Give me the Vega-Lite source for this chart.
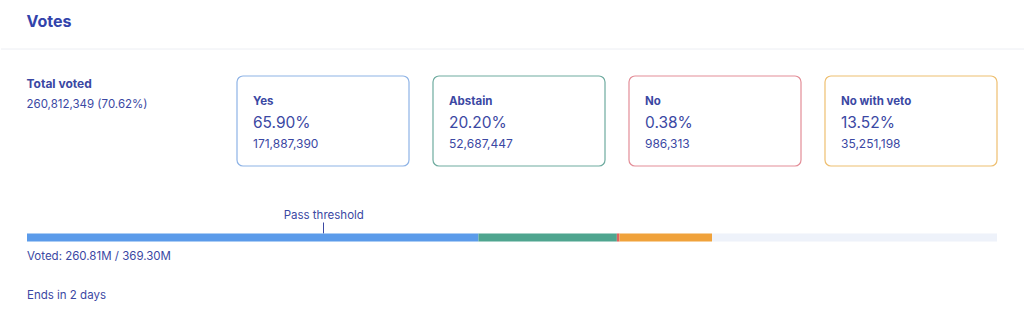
{
  "$schema": "https://vega.github.io/schema/vega-lite/v6.json",
  "background": "#ffffff",
  "padding": {"top": 14, "left": 0, "right": 0, "bottom": 0},
  "title": {"text": "Votes", "anchor": "start", "dx": 26, "fontSize": 16, "fontWeight": "bold", "color": "#3243ab", "font": "Inter", "offset": 3},
  "spacing": 25,
  "config": {
    "view": {"stroke": null},
    "font": "Inter",
    "text": {"font": "Inter"},
    "axis": {"labelFont": "Inter", "titleFont": "Inter"},
    "title": {"font": "Inter", "subtitleFont": "Inter"}
  },
  "datasets": {
    "options": [
      {"option": "Yes", "votes": 171887390, "share": 0.659},
      {"option": "Abstain", "votes": 52687447, "share": 0.202},
      {"option": "No", "votes": 986313, "share": 0.0038},
      {"option": "No with veto", "votes": 35251198, "share": 0.1352}
    ],
    "bar": [
      {"option": "Yes", "votes": 171887390, "rank": 1},
      {"option": "Abstain", "votes": 52687447, "rank": 2},
      {"option": "No", "votes": 986313, "rank": 3},
      {"option": "No with veto", "votes": 35251198, "rank": 4},
      {"option": "Not voted", "votes": 108487651, "rank": 5}
    ]
  },
  "vconcat": [
    {
      "width": 1024,
      "height": 16,
      "data": {"values": [{"divider": 0}]},
      "mark": {"type": "rule", "color": "#eceef3", "strokeWidth": 1},
      "encoding": {
        "y": {"field": "divider", "type": "quantitative", "scale": {"domain": [0, 1]}, "axis": null}
      }
    },
    {
      "spacing": 42,
      "vconcat": [
        {
          "spacing": 0,
          "hconcat": [
            {
              "width": 235,
              "height": 90,
              "title": {
                "text": "Total voted",
                "subtitle": "260,812,349 (70.62%)",
                "anchor": "start",
                "dx": 26,
                "offset": -36,
                "fontSize": 12,
                "fontWeight": "bold",
                "color": "#3b48a3",
                "subtitleFontSize": 11.5,
                "subtitleColor": "#3b48a3",
                "subtitlePadding": 8
              },
              "data": {"values": [{"total": 260812349}]},
              "mark": {"type": "rule", "opacity": 0},
              "encoding": {}
            },
            {
              "width": 760,
              "height": 90,
              "data": {"name": "options"},
              "layer": [
                {
                  "mark": {"type": "rect", "fill": "#ffffff", "cornerRadius": 6, "strokeWidth": 1.2},
                  "encoding": {
                    "x": {"field": "option", "type": "nominal", "sort": null, "axis": null, "scale": {"paddingInner": 0.1224, "paddingOuter": 0}},
                    "stroke": {"field": "option", "type": "nominal", "legend": null, "scale": {"domain": ["Yes", "Abstain", "No", "No with veto"], "range": ["#8eb3e6", "#6eab9f", "#e38d97", "#eebf70"]}}
                  }
                },
                {
                  "mark": {"type": "text", "align": "left", "baseline": "middle", "dx": 16, "fontSize": 11.5, "fontWeight": "bold", "color": "#3b48a3"},
                  "encoding": {
                    "x": {"field": "option", "type": "nominal", "sort": null, "bandPosition": 0, "axis": null},
                    "y": {"datum": "label", "type": "nominal", "axis": null, "scale": {"type": "point", "domain": ["label", "share", "count"], "range": [26, 67.5], "padding": 0}},
                    "text": {"field": "option"}
                  }
                },
                {
                  "mark": {"type": "text", "align": "left", "baseline": "middle", "dx": 16, "fontSize": 15.5, "color": "#3b48a3"},
                  "encoding": {
                    "x": {"field": "option", "type": "nominal", "sort": null, "bandPosition": 0, "axis": null},
                    "y": {"datum": "share", "type": "nominal", "axis": null, "scale": {"type": "point", "domain": ["label", "share", "count"], "range": [26, 67.5], "padding": 0}},
                    "text": {"field": "share", "type": "quantitative", "format": ".2%"}
                  }
                },
                {
                  "mark": {"type": "text", "align": "left", "baseline": "middle", "dx": 16, "fontSize": 12, "color": "#3b48a3"},
                  "encoding": {
                    "x": {"field": "option", "type": "nominal", "sort": null, "bandPosition": 0, "axis": null},
                    "y": {"datum": "count", "type": "nominal", "axis": null, "scale": {"type": "point", "domain": ["label", "share", "count"], "range": [26, 67.5], "padding": 0}},
                    "text": {"field": "votes", "type": "quantitative", "format": ",.0f"}
                  }
                }
              ]
            }
          ]
        },
        {
          "width": 1024,
          "height": 9,
          "data": {"name": "bar"},
          "title": {
            "text": "Voted: 260.81M / 369.30M",
            "subtitle": "Ends in 2 days",
            "orient": "bottom",
            "anchor": "start",
            "dx": 26,
            "offset": 9,
            "fontSize": 11.5,
            "fontWeight": "normal",
            "color": "#3b48a3",
            "subtitleFontSize": 11.5,
            "subtitleColor": "#3b48a3",
            "subtitlePadding": 27
          },
          "mark": {"type": "bar"},
          "encoding": {
            "x": {
              "field": "votes",
              "type": "quantitative",
              "stack": "zero",
              "scale": {"domain": [0, 369300000], "range": [26, 996], "nice": false},
              "axis": {
                "orient": "top",
                "values": [112800000],
                "labelExpr": "'Pass threshold'",
                "tickSize": 11,
                "tickColor": "#3b48a3",
                "tickWidth": 1,
                "domain": false,
                "grid": false,
                "labelFontSize": 11.5,
                "labelColor": "#3b48a3",
                "labelPadding": 2,
                "title": null
              }
            },
            "color": {"field": "option", "type": "nominal", "legend": null, "scale": {"domain": ["Yes", "Abstain", "No", "No with veto", "Not voted"], "range": ["#5b9bea", "#4fa58f", "#e0635d", "#f0a23b", "#eef2fa"]}},
            "order": {"field": "rank", "type": "quantitative"}
          }
        }
      ]
    }
  ]
}
